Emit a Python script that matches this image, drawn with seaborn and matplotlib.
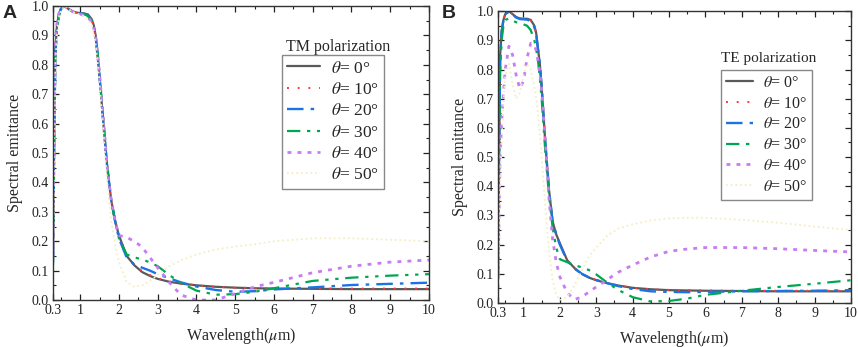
import numpy as np
import pandas as pd
import matplotlib
matplotlib.use("Agg")
import matplotlib.pyplot as plt
import seaborn as sns
from matplotlib.ticker import MultipleLocator, FixedLocator

# wavelength grid (um) shared by every curve
wavelength = [0.3, 0.33, 0.36, 0.4, 0.45, 0.5, 0.6, 0.7, 0.8, 0.9, 1.0, 1.1, 1.2, 1.3, 1.35,
              1.4, 1.45, 1.5, 1.6, 1.7, 1.8, 1.9, 2.0, 2.2, 2.4, 2.6, 2.8, 3.0, 3.3, 3.6,
              4.0, 4.5, 5.0, 5.5, 6.0, 7.0, 8.0, 9.0, 10.0]

angles = ["0", "10", "20", "30", "40", "50"]

# TM polarization
tm_0 = [0.15, 0.55, 0.85, 0.93, 0.97, 0.99, 1.0, 0.99, 0.982, 0.978, 0.976, 0.975, 0.972, 0.955, 0.935,
        0.9, 0.83, 0.76, 0.6, 0.45, 0.34, 0.27, 0.22, 0.15, 0.118, 0.095, 0.082, 0.072, 0.062, 0.056,
        0.05, 0.045, 0.042, 0.04, 0.039, 0.038, 0.037, 0.037, 0.037]
tm_10 = [0.14, 0.53, 0.84, 0.93, 0.97, 0.99, 1.0, 0.99, 0.982, 0.978, 0.976, 0.975, 0.97, 0.952, 0.93,
         0.895, 0.825, 0.755, 0.6, 0.45, 0.34, 0.27, 0.22, 0.15, 0.12, 0.098, 0.085, 0.074, 0.063, 0.056,
         0.05, 0.045, 0.042, 0.041, 0.04, 0.04, 0.039, 0.039, 0.039]
tm_20 = [0.13, 0.52, 0.83, 0.93, 0.97, 0.99, 1.0, 0.99, 0.982, 0.977, 0.975, 0.974, 0.968, 0.95, 0.93,
         0.895, 0.83, 0.76, 0.6, 0.45, 0.34, 0.27, 0.21, 0.145, 0.12, 0.11, 0.1, 0.088, 0.074, 0.06,
         0.046, 0.034, 0.028, 0.03, 0.036, 0.043, 0.051, 0.055, 0.059]
tm_30 = [0.12, 0.5, 0.82, 0.92, 0.965, 0.99, 1.0, 0.99, 0.982, 0.977, 0.975, 0.973, 0.966, 0.95, 0.93,
         0.9, 0.84, 0.77, 0.61, 0.46, 0.34, 0.27, 0.21, 0.155, 0.145, 0.138, 0.128, 0.115, 0.085, 0.058,
         0.032, 0.018, 0.02, 0.028, 0.04, 0.065, 0.076, 0.083, 0.088]
tm_40 = [0.15, 0.6, 0.88, 0.94, 0.975, 0.99, 1.0, 0.99, 0.982, 0.976, 0.973, 0.968, 0.962, 0.945, 0.925,
         0.895, 0.84, 0.77, 0.61, 0.45, 0.34, 0.27, 0.22, 0.213, 0.2, 0.18, 0.145, 0.11, 0.06, 0.017,
         0.0, 0.0, 0.022, 0.045, 0.06, 0.093, 0.115, 0.129, 0.136]
tm_50 = [0.1, 0.45, 0.8, 0.9, 0.96, 0.985, 1.0, 0.99, 0.98, 0.975, 0.972, 0.965, 0.955, 0.935, 0.91,
         0.87, 0.81, 0.74, 0.57, 0.4, 0.27, 0.19, 0.13, 0.06, 0.045, 0.05, 0.065, 0.085, 0.115, 0.135,
         0.155, 0.172, 0.182, 0.19, 0.2, 0.21, 0.21, 0.205, 0.2]

# TE polarization
te_0 = [0.1, 0.5, 0.85, 0.93, 0.97, 0.99, 1.0, 0.99, 0.98, 0.975, 0.974, 0.974, 0.97, 0.95, 0.925,
        0.87, 0.82, 0.74, 0.55, 0.39, 0.28, 0.235, 0.205, 0.147, 0.12, 0.1, 0.087, 0.078, 0.068, 0.06,
        0.052, 0.047, 0.044, 0.043, 0.042, 0.041, 0.04, 0.04, 0.04]
te_10 = [0.1, 0.49, 0.84, 0.93, 0.97, 0.99, 1.0, 0.99, 0.98, 0.975, 0.974, 0.973, 0.968, 0.948, 0.922,
         0.87, 0.82, 0.74, 0.55, 0.39, 0.28, 0.235, 0.2, 0.145, 0.118, 0.1, 0.088, 0.079, 0.069, 0.06,
         0.052, 0.047, 0.045, 0.044, 0.043, 0.042, 0.042, 0.042, 0.042]
te_20 = [0.09, 0.48, 0.83, 0.93, 0.97, 0.99, 0.998, 0.988, 0.978, 0.973, 0.972, 0.971, 0.966, 0.945, 0.92,
         0.87, 0.82, 0.74, 0.55, 0.39, 0.28, 0.235, 0.2, 0.145, 0.118, 0.1, 0.088, 0.079, 0.068, 0.058,
         0.048, 0.04, 0.038, 0.037, 0.038, 0.04, 0.041, 0.042, 0.044]
te_30 = [0.08, 0.45, 0.8, 0.9, 0.95, 0.97, 0.975, 0.968, 0.962, 0.958, 0.955, 0.95, 0.935, 0.9, 0.87,
         0.83, 0.77, 0.7, 0.52, 0.37, 0.26, 0.19, 0.15, 0.14, 0.13, 0.122, 0.113, 0.098, 0.07, 0.045,
         0.02, 0.005, 0.007, 0.015, 0.028, 0.042, 0.055, 0.066, 0.078]
te_40 = [0.05, 0.3, 0.5, 0.62, 0.72, 0.8, 0.88, 0.85, 0.78, 0.735, 0.76, 0.84, 0.89, 0.885, 0.865,
         0.83, 0.79, 0.73, 0.56, 0.36, 0.22, 0.14, 0.09, 0.035, 0.012, 0.02, 0.038, 0.055, 0.08, 0.105,
         0.13, 0.158, 0.177, 0.185, 0.19, 0.19, 0.186, 0.18, 0.175]
te_50 = [0.03, 0.2, 0.4, 0.55, 0.68, 0.78, 0.82, 0.75, 0.7, 0.72, 0.78, 0.82, 0.8, 0.74, 0.7,
         0.65, 0.58, 0.5, 0.33, 0.18, 0.08, 0.03, 0.01, 0.02, 0.06, 0.11, 0.16, 0.19, 0.23, 0.255,
         0.27, 0.283, 0.29, 0.292, 0.292, 0.285, 0.275, 0.262, 0.25]

x_ticks = [0.3, 1, 2, 3, 4, 5, 6, 7, 8, 9, 10]
x_tick_labels = ["0.3", "1", "2", "3", "4", "5", "6", "7", "8", "9", "10"]

colors = ["#595959", "#ff3b3b", "#1b74e4", "#00a651", "#c77cf2", "#f4eec4"]
styles = ["-", (0, (1, 4.5)), (0, (7, 3, 1.5, 3)), (0, (6, 3, 1.5, 3, 1.5, 3)),
          (0, (1.4, 2.2)), (0, (1, 1.6))]
widths = [1.6, 1.4, 1.7, 1.6, 2.0, 1.3]

sns.set_style("ticks")
plt.rcParams["font.family"] = ["Liberation Serif", "DejaVu Serif"]
plt.rcParams["mathtext.fontset"] = "stix"


def build_frame(series):
    rows = []
    for ang, vals in zip(angles, series):
        rows.append(pd.DataFrame({"wavelength": wavelength, "emittance": vals, "angle": ang}))
    return pd.concat(rows, ignore_index=True)


def draw_panel(ax, df, title, title_xy, legend_anchor, legend_size, title_size, hlen):
    for i, ang in enumerate(angles):
        sub = df[df["angle"] == ang]
        sns.lineplot(data=sub, x="wavelength", y="emittance", ax=ax, color=colors[i],
                     linestyle=styles[i], linewidth=widths[i], legend=False,
                     label=r"$\theta$= " + ang + "°")
    ax.set_xlim(0.3, 10)
    ax.set_ylim(0, 1.0)
    ax.xaxis.set_major_locator(FixedLocator(x_ticks))
    ax.set_xticklabels(x_tick_labels)
    ax.xaxis.set_minor_locator(MultipleLocator(0.5))
    ax.yaxis.set_major_locator(MultipleLocator(0.1))
    ax.yaxis.set_minor_locator(MultipleLocator(0.05))
    ax.yaxis.set_major_formatter(matplotlib.ticker.FormatStrFormatter("%.1f"))
    ax.tick_params(which="both", direction="in", top=True, right=True, labelsize=10,
                   colors="#222222", pad=3)
    ax.tick_params(which="major", length=4, width=0.9)
    ax.tick_params(which="minor", length=2, width=0.8)
    for sp in ax.spines.values():
        sp.set_visible(True)
        sp.set_color("#333333")
        sp.set_linewidth(1.0)
    ax.set_xlabel(r"Wavelength($\mu$m)", fontsize=11.5, labelpad=6)
    ax.set_ylabel("Spectral emittance", fontsize=11.5, labelpad=6)
    ax.text(title_xy[0], title_xy[1], title, transform=ax.transAxes, ha="center",
            va="center", fontsize=title_size)
    leg = ax.legend(loc="upper right", bbox_to_anchor=legend_anchor, borderaxespad=0,
                    fontsize=legend_size, handlelength=hlen, handletextpad=0.6,
                    labelspacing=0.3, borderpad=0.3, fancybox=False, framealpha=1,
                    edgecolor="#888888")
    leg.get_frame().set_linewidth(1.0)


fig = plt.figure(figsize=(8.58, 3.47), dpi=100)
ax_a = fig.add_axes([0.0618, 0.1354, 0.4382, 0.847])
ax_b = fig.add_axes([0.5804, 0.1268, 0.4114, 0.841])

draw_panel(ax_a, build_frame([tm_0, tm_10, tm_20, tm_30, tm_40, tm_50]), "TM polarization",
           (0.759, 0.861), (0.88, 0.833), 12.5, 11.5, 1.9)
draw_panel(ax_b, build_frame([te_0, te_10, te_20, te_30, te_40, te_50]), "TE polarization",
           (0.768, 0.839), (0.89, 0.798), 11.5, 11, 1.7)

fig.text(0.003, 0.985, "A", fontsize=14, fontweight="bold", family="Liberation Sans",
         ha="left", va="top")
fig.text(0.515, 0.985, "B", fontsize=14, fontweight="bold", family="Liberation Sans",
         ha="left", va="top")

fig.savefig("out.png", dpi=100)
